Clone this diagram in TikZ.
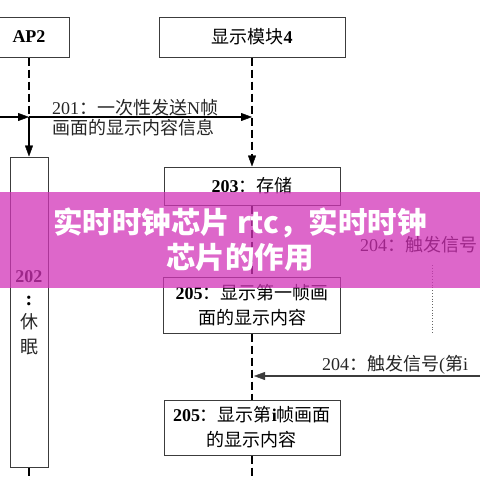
\documentclass[tikz,border=0pt]{standalone}
\usepackage{fontspec}
\setmainfont{Liberation Serif}
\newfontfamily\cjk{Noto Sans CJK SC}
\usetikzlibrary{arrows.meta}
\definecolor{bannerpink}{RGB}{210,52,184}
\definecolor{boxline}{RGB}{60,60,60}
\begin{document}
\begin{tikzpicture}[x=1pt,y=-1pt,
  box/.style={draw=boxline, line width=1pt, fill=white, inner sep=0pt},
  life/.style={draw=black, line width=2pt, dash pattern=on 8pt off 4pt},
  tipx/.style={-{Triangle[length=11pt,width=8pt,line width=0.4pt]}},
  lbl/.style={font=\fontsize{18}{20}\selectfont, inner sep=0pt, text=black!85},
  bantext/.style={font=\cjk\bfseries\fontsize{29.5}{32}\selectfont, text=white, inner sep=0pt}
]
\useasboundingbox (0,0) rectangle (480,480);
\clip (0,0) rectangle (480,480);

% participants
\node[box, minimum width=80pt, minimum height=40pt, font=\bfseries\fontsize{18}{20}\selectfont] (ap2) at (29,37) {AP2};
\node[box, minimum width=186pt, minimum height=40pt, font=\fontsize{18}{20}\selectfont] (disp) at (252,37) {{\cjk 显示模块}\textbf{4}};

% boxes on lifelines
\node[box, minimum width=38pt, minimum height=310pt] (b202) at (29,312) {};
\node[box, minimum width=176pt, minimum height=38pt, font=\fontsize{18}{20}\selectfont] (b203) at (252,186) {\textbf{203}{\cjk ：存储}};
\node[box, minimum width=177pt, minimum height=56pt, align=center, font=\fontsize{18}{25}\selectfont] (b205a) at (252,305) {\textbf{205}{\cjk ：显示第一帧画}\\{\cjk 面的显示内容}};
\node[box, minimum width=176pt, minimum height=55pt, align=center, font=\fontsize{18}{25}\selectfont] (b205b) at (252,427.5) {\textbf{205}{\cjk ：显示第}\textbf{i}{\cjk 帧画面}\\{\cjk 的显示内容}};

% text inside 202 box
\node[lbl, text=black, font=\bfseries\fontsize{18}{20}\selectfont] (t202) at (29,277) {202};
\node[lbl, text=black, font=\bfseries\fontsize{20}{20}\selectfont] (t202c) at (29,301) {:};
\node[lbl, font=\cjk\fontsize{18}{20}\selectfont] (t202x) at (29,322) {休};
\node[lbl, font=\cjk\fontsize{18}{20}\selectfont] (t202y) at (29,347) {眠};

% coordinates
\coordinate (src201) at (0,117);
\coordinate (a201) at (29,117);
\coordinate (d201) at (252,117);
\coordinate (src204) at (480,376);
\coordinate (d204) at (254,376);
\coordinate (endd) at (252,480);
\coordinate (enda) at (29,480);
\coordinate (dot1) at (432,265);
\coordinate (dot2) at (432,334);

% lifelines
\draw[life] (ap2.south) -- (a201);
\draw[line width=1.3pt, tipx] (a201) -- (b202.north);
\draw[life, tipx] (disp.south) -- (b203.north);
\draw[life] (b203.south) -- (b205a.north);
\draw[life] (b205a.south) -- (b205b.north);
\draw[life] (b205b.south) -- (endd);
\draw[life] (b202.south) -- (enda);
\draw[black!60, line width=0.8pt, dotted] (dot1) -- (dot2);

% messages
\draw[line width=1.1pt, tipx] (src201) -- (a201);
\draw[line width=1.1pt, tipx] (a201) -- (d201);
\draw[line width=1.4pt, boxline, tipx] (src204) -- (d204);

\node[lbl, anchor=west] (l201a) at (52,108) {201{\cjk ：一次性发送}N{\cjk 帧}};
\node[lbl, anchor=west] (l201b) at (52,128) {\cjk 画面的显示内容信息};
\node[lbl, text=black, anchor=west] (l204a) at (360,245) {204{\cjk ：触发信号}};
\node[lbl, anchor=west] (l204b) at (322,365) {204{\cjk ：触发信号}(\cjk 第\rmfamily i};

% banner overlay
\fill[bannerpink, opacity=0.75] (0,192) rectangle (480,288);
\node[bantext] (ban1) at (240,223) {实时时钟芯片 rtc，实时时钟};
\node[bantext] (ban2) at (240,257) {芯片的作用};
\end{tikzpicture}
\end{document}
